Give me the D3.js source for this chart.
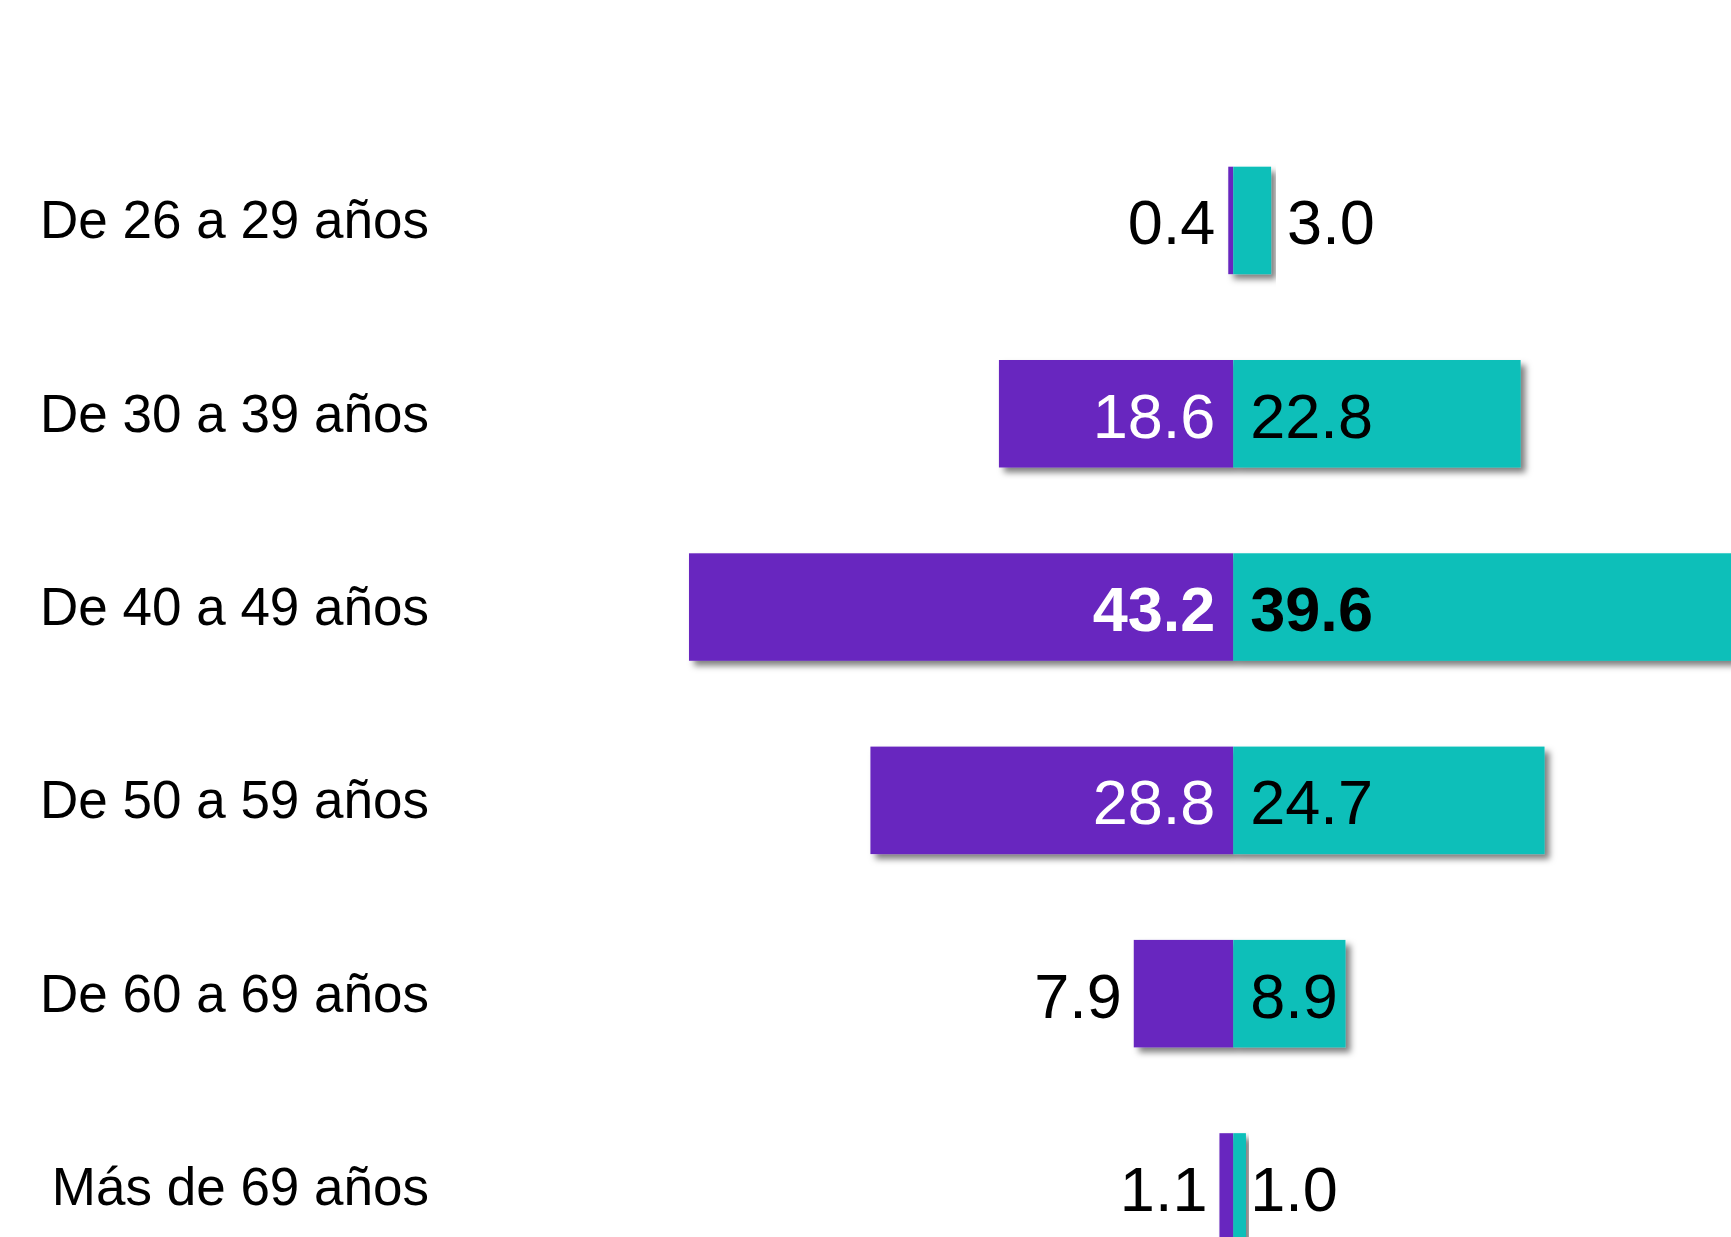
<!DOCTYPE html>
<html>
<head>
<meta charset="utf-8">
<script src="https://cdn.jsdelivr.net/npm/d3@7"></script>
<style>
  body { margin: 0; background: #fff; }
  svg { display: block; font-family: "Liberation Sans", Arial, sans-serif; }
</style>
</head>
<body>
<script>
var width = 1731;
var height = 1237;

// data
var categories = ["De 26 a 29 años", "De 30 a 39 años", "De 40 a 49 años",
                  "De 50 a 59 años", "De 60 a 69 años", "Más de 69 años"];
var hombres = [0.4, 18.6, 43.2, 28.8, 7.9, 1.1];   // purple, left side
var mujeres = [3.0, 22.8, 39.6, 24.7, 8.9, 1.0];   // teal, right side
var boldRow = "De 40 a 49 años";

var purple = "#6826bf";
var teal = "#07bfb9";

var center = 1233.3;
var unit = 12.6;

var svg = d3.select("body")
  .append("svg")
  .attr("width", width)
  .attr("height", height);

var defs = svg.append("defs");
var f = defs.append("filter")
  .attr("id", "shadow")
  .attr("x", "-5%").attr("y", "-20%")
  .attr("width", "115%").attr("height", "150%");
f.append("feDropShadow")
  .attr("dx", 5).attr("dy", 5)
  .attr("stdDeviation", 3)
  .attr("flood-color", "#000")
  .attr("flood-opacity", 0.5);

var xLeft = d3.scaleLinear()
  .domain([0, 50])
  .range([center, center - 50 * unit]);

var xRight = d3.scaleLinear()
  .domain([0, 50])
  .range([center, center + 50 * unit]);

var step = 193.3;
var y0 = 166.7 - 0.222 * step;
var yScale = d3.scaleBand()
  .domain(categories)
  .range([y0, y0 + categories.length * step])
  .paddingInner(0.444)
  .paddingOuter(0.222);

var rows = categories.map(function(c, i) {
  return {cat: c, h: hombres[i], m: mujeres[i]};
});

// category labels
svg.selectAll("text.cat")
  .data(rows)
  .enter()
  .append("text")
    .attr("class", "cat")
    .attr("x", 429)
    .attr("y", function(d) { return yScale(d.cat) + yScale.bandwidth() / 2 + 18; })
    .attr("text-anchor", "end")
    .attr("font-size", 53)
    .attr("fill", "#000")
    .text(function(d) { return d.cat; });

// bars
var bar = svg.selectAll("g.row")
  .data(rows)
  .enter()
  .append("g")
    .attr("class", "row")
    .attr("filter", "url(#shadow)");

bar.append("rect")
  .attr("x", function(d) { return xLeft(d.h); })
  .attr("y", function(d) { return yScale(d.cat); })
  .attr("width", function(d) { return xLeft(0) - xLeft(d.h); })
  .attr("height", yScale.bandwidth())
  .attr("fill", purple);

bar.append("rect")
  .attr("x", xRight(0))
  .attr("y", function(d) { return yScale(d.cat); })
  .attr("width", function(d) { return xRight(d.m) - xRight(0); })
  .attr("height", yScale.bandwidth())
  .attr("fill", teal);

// value labels
var fs = 63;
var labelW = 1.45 * fs;
function fmt(v) { return v.toFixed(1); }

svg.selectAll("text.lh")
  .data(rows)
  .enter()
  .append("text")
    .attr("class", "lh")
    .attr("x", function(d) {
      var w = xLeft(0) - xLeft(d.h);
      return w > labelW + 30 ? center - 18 : Math.min(center - 18, xLeft(d.h) - 12);
    })
    .attr("y", function(d) { return yScale(d.cat) + yScale.bandwidth() / 2 + 24; })
    .attr("text-anchor", "end")
    .attr("font-size", fs)
    .attr("font-weight", function(d) { return d.cat === boldRow ? "bold" : "normal"; })
    .attr("fill", function(d) {
      var w = xLeft(0) - xLeft(d.h);
      return w > labelW + 30 ? "#fff" : "#000";
    })
    .text(function(d) { return fmt(d.h); });

svg.selectAll("text.lm")
  .data(rows)
  .enter()
  .append("text")
    .attr("class", "lm")
    .attr("x", function(d) {
      var w = xRight(d.m) - xRight(0);
      return w > 18 ? (w > labelW ? center + 17 : xRight(d.m) + 16) : center + 17;
    })
    .attr("y", function(d) { return yScale(d.cat) + yScale.bandwidth() / 2 + 24; })
    .attr("text-anchor", "start")
    .attr("font-size", fs)
    .attr("font-weight", function(d) { return d.cat === boldRow ? "bold" : "normal"; })
    .attr("fill", "#000")
    .text(function(d) { return fmt(d.m); });
</script>
</body>
</html>
